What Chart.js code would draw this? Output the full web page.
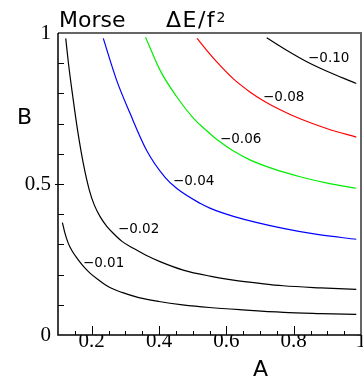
<!DOCTYPE html>
<html>
<head>
<meta charset="utf-8">
<script src="https://cdn.jsdelivr.net/npm/chart.js@4/dist/chart.umd.min.js"></script>
<style>
html,body{margin:0;padding:0;background:#fff;}
#wrap{width:363px;height:379px;}
</style>
</head>
<body>
<div id="wrap"><canvas id="c" width="363" height="379"></canvas></div>
<script>
// ---- data (A, B) ----
const contourLevels = ["−0.01", "−0.02", "−0.04", "−0.06", "−0.08", "−0.10"];
const contourColors = ["#000000", "#000000", "#0000ff", "#00ee00", "#ff0000", "#000000"];
const curveM001 = [[0.113,0.372],[0.120,0.340],[0.130,0.305],[0.142,0.278],[0.158,0.252],[0.175,0.228],[0.195,0.205],[0.220,0.183],[0.250,0.160],[0.290,0.141],[0.340,0.124],[0.400,0.111],[0.470,0.100],[0.550,0.091],[0.650,0.083],[0.770,0.075],[0.880,0.071],[0.986,0.068]];
const curveM002 = [[0.123,0.982],[0.131,0.900],[0.144,0.789],[0.158,0.679],[0.175,0.569],[0.193,0.480],[0.208,0.430],[0.225,0.392],[0.245,0.360],[0.264,0.337],[0.290,0.310],[0.324,0.287],[0.360,0.265],[0.403,0.243],[0.472,0.215],[0.551,0.195],[0.621,0.182],[0.700,0.171],[0.769,0.163],[0.880,0.156],[0.986,0.151]];
const curveM004 = [[0.2345,0.982],[0.274,0.844],[0.314,0.734],[0.363,0.612],[0.418,0.522],[0.453,0.485],[0.522,0.436],[0.551,0.420],[0.621,0.393],[0.769,0.353],[0.870,0.333],[0.986,0.317]];
const curveM006 = [[0.360,0.986],[0.403,0.877],[0.4525,0.789],[0.502,0.718],[0.522,0.696],[0.551,0.667],[0.571,0.648],[0.620,0.610],[0.670,0.580],[0.740,0.550],[0.819,0.524],[0.900,0.503],[0.986,0.486]];
const curveM008 = [[0.513,0.982],[0.540,0.945],[0.571,0.905],[0.621,0.848],[0.670,0.805],[0.710,0.776],[0.760,0.746],[0.819,0.716],[0.900,0.683],[0.986,0.655]];
const curveM010 = [[0.720,0.984],[0.779,0.943],[0.839,0.905],[0.918,0.864],[0.986,0.833]];
const contourLabelAt = [[0.174,0.238],[0.278,0.348],[0.4415,0.507],[0.581,0.649],[0.709,0.785],[0.8425,0.917]];
const xTickValues = [0.2, 0.4, 0.6, 0.8, 1];
const xTickLabels = ["0.2", "0.4", "0.6", "0.8", "1"];
const yTickValues = [0, 0.5, 1];
const yTickLabels = ["0", "0.5", "1"];
const titleLeft = "Morse";
const titleRight = "ΔE/f";
const titleSup = "2";
const xTitle = "A";
const yTitle = "B";

const curves = [curveM001, curveM002, curveM004, curveM006, curveM008, curveM010];

const datasets = curves.map((c, i) => ({
  label: contourLevels[i],
  data: c.map(p => ({x: p[0], y: p[1]})),
  showLine: true,
  borderColor: contourColors[i],
  borderWidth: 1.2,
  pointRadius: 0,
  cubicInterpolationMode: 'monotone',
  fill: false
}));

const decor = {
  id: 'decor',
  afterDatasetsDraw(chart) {
    const ctx = chart.ctx;
    const xs = chart.scales.x, ys = chart.scales.y;
    const a = chart.chartArea;
    ctx.save();
    // frame
    ctx.lineWidth = 2;
    ctx.strokeStyle = '#666';
    ctx.beginPath();
    ctx.moveTo(a.left, a.top); ctx.lineTo(a.right, a.top); ctx.lineTo(a.right, a.bottom);
    ctx.stroke();
    ctx.lineWidth = 1.5;
    ctx.strokeStyle = '#000';
    ctx.beginPath();
    ctx.moveTo(a.left, a.top); ctx.lineTo(a.left, a.bottom); ctx.lineTo(a.right, a.bottom);
    ctx.stroke();
    // x ticks (inside)
    ctx.lineWidth = 1;
    ctx.beginPath();
    for (let k = 3; k <= 19; k++) {
      const v = k * 0.05;
      const px = Math.round(xs.getPixelForValue(v)) + 0.5;
      const major = (k % 4 === 0);
      ctx.moveTo(px, a.bottom);
      ctx.lineTo(px, a.bottom - (major ? 9 : 4));
    }
    // y ticks (inside)
    for (let k = 1; k <= 9; k++) {
      const v = k * 0.1;
      const py = Math.round(ys.getPixelForValue(v)) + 0.5;
      const major = (k === 5);
      ctx.moveTo(a.left - (major ? 3 : 0), py);
      ctx.lineTo(a.left + 6, py);
    }
    ctx.stroke();
    // contour labels
    ctx.fillStyle = '#000';
    ctx.font = '13.5px "DejaVu Sans"';
    ctx.textAlign = 'left';
    ctx.textBaseline = 'middle';
    contourLevels.forEach((t, i) => {
      const p = contourLabelAt[i];
      ctx.fillText(t, xs.getPixelForValue(p[0]), ys.getPixelForValue(p[1]));
    });
    // titles
    ctx.textBaseline = 'alphabetic';
    ctx.font = '22px "DejaVu Sans"';
    ctx.fillText(titleLeft, 59, 27);
    ctx.letterSpacing = '1.5px';
    ctx.fillText(titleRight, 166, 27);
    const w = ctx.measureText(titleRight).width;
    ctx.letterSpacing = '0px';
    ctx.font = '14px "DejaVu Sans"';
    ctx.fillText(titleSup, 166 + w + 0.5, 21.5);
    ctx.font = '22px "DejaVu Sans"';
    ctx.textAlign = 'center';
    ctx.fillText(xTitle, 260.5, 376);
    ctx.textAlign = 'left';
    ctx.fillText(yTitle, 17, 124);
    ctx.restore();
  }
};

new Chart(document.getElementById('c'), {
  type: 'scatter',
  data: { datasets },
  options: {
    responsive: false,
    animation: false,
    events: [],
    layout: { padding: { top: 33, right: 2, left: 0, bottom: 0 } },
    plugins: { legend: { display: false }, tooltip: { enabled: false }, title: { display: false } },
    scales: {
      x: {
        type: 'linear', position: 'bottom', min: 0.1, max: 1,
        grid: { display: false, drawTicks: false },
        border: { display: false },
        afterBuildTicks: s => { s.ticks = xTickValues.map(v => ({ value: v })); },
        afterFit: s => { s.height = 44; s.paddingLeft = 0; s.paddingRight = 0; },
        ticks: {
          padding: -6, color: '#000', maxRotation: 0, autoSkip: false,
          font: { family: '"Liberation Serif"', size: 21 },
          callback: v => xTickLabels[xTickValues.indexOf(v)]
        }
      },
      y: {
        type: 'linear', position: 'left', min: 0, max: 1,
        grid: { display: false, drawTicks: false },
        border: { display: false },
        afterBuildTicks: s => { s.ticks = yTickValues.map(v => ({ value: v })); },
        afterFit: s => { s.width = 58; s.paddingTop = 0; s.paddingBottom = 0; },
        ticks: {
          padding: 7, color: '#000', autoSkip: false,
          font: { family: '"Liberation Serif"', size: 21 },
          callback: v => yTickLabels[yTickValues.indexOf(v)]
        }
      }
    }
  },
  plugins: [decor]
});
</script>
</body>
</html>
